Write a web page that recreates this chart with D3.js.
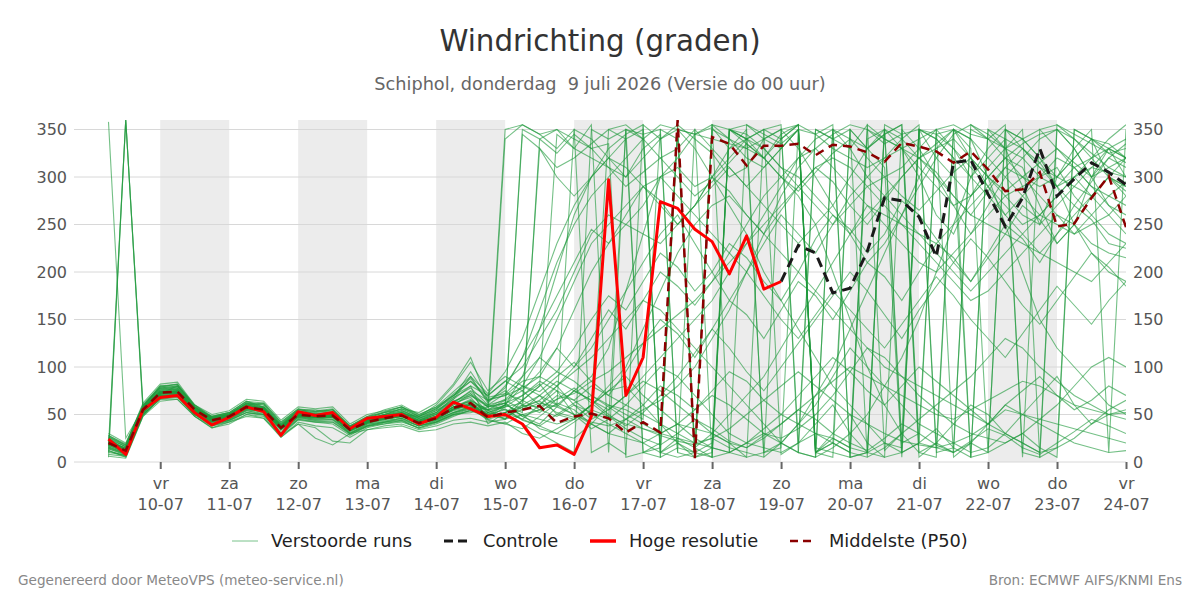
<!DOCTYPE html>
<html>
<head>
<meta charset="utf-8">
<script src="https://cdn.jsdelivr.net/npm/d3@7"></script>
<style>
  body { margin: 0; background: #fff; font-family: "DejaVu Sans", sans-serif; }
</style>
</head>
<body>
<svg id="chart" width="1200" height="600"></svg>
<script>
// --- data (6-hourly, first point 9 juli 06 uur) ---
const startTime = Date.UTC(2026, 6, 9, 6);
const stepHours = 6;

const hogeResolutie = [24,8,55,68,70,52,39,47,58,53,28,53,49,52,35,46,48,50,40,47,63,56,48,50,40,15,18,8,48,297,70,110,274,267,245,232,198,238,182,190];
const controleStart = 39;
const controle = [190,228,220,178,183,222,278,275,258,216,315,318,282,248,278,330,280,298,315,305,292];
const middelste = [20,12,55,73,74,55,44,48,58,55,36,50,48,49,34,42,46,49,41,46,57,62,47,52,55,59,41,48,51,46,31,42,31,360,4,342,335,312,333,333,335,323,334,332,326,316,336,332,327,315,327,308,285,287,305,248,251,278,301,247];

const run01 = [15,8,52,70,72,50,40,45,55,52,30,48,45,47,30,40,44,46,38,44,52,58,55,58,70,82,60,75,90,120,180,240,300,320,345,352,330,340,350,8,20,350,340,330,355,12,30,350,320,300,280,310,330,290,250,300,320,340,300,280];
const run02 = [25,12,58,80,82,58,46,50,62,60,40,54,52,55,36,45,50,52,44,50,62,68,48,60,345,330,310,320,335,350,340,10,15,355,340,325,300,310,340,350,20,40,60,30,10,350,330,300,260,240,280,300,320,310,270,230,250,300,330,320];
const run03 = [8,6,50,66,68,50,38,44,52,50,28,44,42,40,28,38,40,44,35,40,48,55,60,65,55,70,50,45,60,75,80,60,40,30,20,25,15,10,5,20,40,60,90,120,100,80,60,40,30,20,10,15,30,50,70,90,60,40,50,55];
const run04 = [30,20,60,78,76,56,48,52,64,58,38,55,55,52,36,46,52,55,46,52,64,72,52,60,80,110,150,190,230,250,270,290,300,280,260,240,220,250,280,300,320,330,310,290,270,250,230,210,200,220,240,260,280,290,300,310,280,260,240,230];
const run05 = [358,25,56,74,75,54,44,49,57,56,35,50,47,48,33,43,47,50,42,45,55,60,45,40,50,35,30,25,40,60,55,45,350,340,10,5,350,355,340,330,350,15,10,5,340,350,20,30,345,350,330,10,350,340,320,300,330,350,10,350];
const run06 = [22,14,54,72,80,60,46,47,60,62,42,56,50,52,38,48,55,60,50,58,70,85,70,85,100,130,160,200,240,260,250,270,300,310,290,300,320,340,330,310,300,280,260,240,260,280,300,320,330,340,320,300,280,260,250,270,290,310,330,300];
const run07 = [12,5,48,68,70,48,36,42,50,48,26,42,38,36,26,36,40,42,36,42,50,52,58,62,48,55,70,65,80,70,60,50,40,20,10,350,340,330,320,300,280,250,200,150,100,60,30,10,5,350,340,300,250,200,150,120,100,80,60,50];
const run08 = [28,18,62,82,84,60,50,54,66,64,44,58,56,58,40,50,54,58,48,55,70,80,40,52,65,80,345,330,320,310,300,320,340,355,5,10,350,345,330,310,290,270,250,270,290,300,310,330,350,5,20,10,350,330,310,300,290,280,300,320];
const run09 = [18,10,55,75,76,56,45,48,60,56,36,50,49,50,35,43,48,52,44,50,62,75,65,70,85,90,80,95,110,130,150,170,160,140,120,100,80,60,40,20,10,5,15,30,50,80,110,150,200,250,300,330,350,340,320,290,250,220,200,190];
const run10 = [20,15,52,70,70,52,42,46,55,54,34,47,45,45,32,40,42,45,38,42,50,54,50,55,45,60,75,50,35,45,60,80,100,90,70,50,30,20,15,10,20,30,25,15,10,5,10,20,15,10,20,40,60,50,40,30,20,15,10,12];
const run11 = [26,16,57,76,78,57,47,51,61,58,39,53,51,53,37,46,50,54,46,52,66,90,62,80,110,160,210,250,280,300,320,340,355,350,345,340,335,330,340,350,355,345,330,320,310,320,330,340,350,355,345,340,330,320,300,290,310,320,330,340];
const run12 = [10,7,50,68,72,52,40,44,54,50,30,46,44,44,30,38,42,44,38,42,50,56,45,50,40,30,20,10,350,340,350,10,20,350,330,300,270,240,200,170,140,110,80,60,40,20,10,350,340,320,300,280,260,240,220,240,260,280,300,290];
const run13 = [24,14,56,74,74,55,44,48,58,55,36,50,48,49,34,42,46,49,41,46,58,65,55,45,60,70,85,75,65,55,70,90,110,130,150,170,200,230,260,290,320,340,350,5,10,350,340,320,300,280,260,250,240,230,220,210,200,190,210,230];
const run14 = [10,360,58,78,80,58,45,50,62,58,38,52,50,52,36,44,48,52,44,50,60,72,58,350,355,345,350,340,330,335,5,10,5,350,345,355,10,20,30,20,10,350,340,350,5,355,345,350,10,15,5,350,330,340,350,355,345,335,325,330];
const run15 = [16,9,53,71,73,54,43,47,57,54,35,49,47,48,33,41,46,50,48,60,80,105,75,90,80,70,60,50,40,30,25,20,30,40,35,30,50,70,90,120,150,180,210,240,270,260,250,240,230,250,270,290,310,300,280,260,240,260,280,270];
const run16 = [22,12,56,74,75,56,45,49,59,56,37,51,49,50,35,43,47,50,42,47,56,60,48,52,58,65,80,60,45,55,70,85,75,60,45,30,20,15,25,40,55,70,85,100,90,80,70,60,50,45,55,65,75,85,80,70,60,55,50,52];
const run17 = [14,8,52,70,70,50,40,44,52,50,30,45,42,42,30,38,42,46,40,45,52,58,50,60,90,140,200,260,300,330,345,355,5,15,10,355,340,320,310,330,350,10,30,50,20,5,350,330,300,270,240,270,300,320,340,350,330,300,270,250];
const run18 = [27,17,59,79,82,60,48,52,64,62,42,56,54,56,38,48,52,56,48,56,68,78,60,55,50,45,40,45,60,80,100,140,180,220,250,270,280,260,240,220,200,180,160,140,120,100,90,80,70,60,50,40,30,20,10,15,25,40,55,65];
const run19 = [6,4,48,64,66,48,36,40,50,46,26,40,36,22,20,34,38,40,34,38,44,46,42,45,50,55,60,350,340,320,300,330,345,10,350,330,310,290,310,330,350,5,350,330,300,320,340,355,15,350,320,290,260,280,300,320,310,290,270,260];
const run20 = [19,11,55,73,75,55,44,48,58,55,36,50,48,49,34,42,46,49,44,52,68,95,68,72,65,80,95,85,70,60,50,40,30,25,20,15,10,5,10,20,40,70,100,140,180,220,260,300,330,350,340,320,300,280,260,250,240,250,260,280];
const run21 = [23,13,56,73,74,55,45,49,58,55,37,50,48,48,34,42,46,48,41,46,54,58,52,48,55,62,58,50,42,38,45,55,65,80,100,130,160,200,240,280,310,330,345,355,350,340,330,310,290,270,280,300,320,335,345,350,340,325,310,300];
const run22 = [5,360,60,80,78,58,47,50,60,57,38,52,50,50,35,44,48,51,43,48,58,64,46,58,62,330,300,280,300,320,340,350,10,20,5,355,350,340,10,15,350,345,355,5,10,20,15,350,340,320,5,10,20,30,15,5,350,340,330,320];
const run23 = [21,15,55,72,72,54,43,47,58,54,36,49,47,48,34,44,50,56,52,62,82,110,64,75,60,52,66,78,62,48,40,35,30,40,55,70,60,45,30,25,35,50,70,95,120,110,90,70,55,40,30,25,20,30,45,60,80,100,110,100];
const run24 = [17,10,54,72,73,54,43,47,57,54,35,49,47,48,34,42,47,50,43,48,58,64,55,65,75,60,80,100,120,150,180,210,240,260,230,200,170,200,230,260,240,220,250,280,300,280,260,240,220,200,180,200,220,240,260,280,300,280,260,240];
const run25 = [20,12,55,73,74,55,44,48,58,55,36,50,48,49,34,42,46,49,41,46,56,60,50,45,65,55,48,60,52,45,350,345,350,10,5,15,350,340,320,345,355,10,20,350,330,310,5,350,345,330,300,320,340,10,5,350,330,300,310,320];
const run26 = [12,6,50,66,66,48,38,42,48,46,28,40,25,18,30,34,36,38,32,34,40,42,38,42,30,25,35,45,60,75,90,70,55,40,25,15,10,20,35,50,40,30,20,10,5,15,30,45,60,75,90,110,130,120,100,85,70,60,50,45];
const run27 = [26,18,58,78,80,58,47,51,62,60,40,55,53,55,37,46,52,58,50,58,74,90,72,95,130,180,230,270,300,320,310,290,270,250,270,300,330,350,5,350,330,300,270,240,210,230,260,290,320,345,355,340,320,300,290,300,320,340,335,320];
const run28 = [20,10,54,72,74,54,43,47,58,55,36,50,48,50,35,43,48,52,46,54,64,70,58,62,70,85,75,65,50,40,30,20,10,5,10,20,350,340,350,355,10,5,350,340,330,345,355,10,20,40,60,50,30,20,10,355,340,320,300,290];
const run29 = [15,9,52,70,71,52,42,46,56,53,34,48,46,47,33,41,45,48,40,45,55,60,47,52,60,58,66,72,85,95,110,125,140,155,170,190,210,230,250,270,290,310,320,310,290,270,250,230,210,190,170,180,200,220,240,260,250,230,220,215];
const run30 = [24,16,57,76,77,57,46,50,60,57,38,52,50,51,36,44,48,51,43,48,58,62,54,60,52,340,350,330,355,10,350,340,320,330,350,5,10,355,345,335,350,10,20,10,355,340,330,320,335,350,5,350,340,330,310,290,300,320,340,355];
const run31 = [18,10,54,72,73,54,43,47,57,54,35,49,47,48,33,41,45,48,40,44,52,56,49,56,44,38,50,62,70,58,45,35,28,22,18,25,35,50,65,80,95,80,65,50,40,30,22,18,15,20,28,40,55,50,45,40,35,30,25,20];
const run32 = [22,13,56,74,75,56,45,49,59,56,37,51,49,50,35,44,50,56,48,56,72,85,66,70,78,90,120,160,200,230,250,240,230,250,270,290,310,290,270,250,230,250,270,300,330,350,10,20,350,330,310,290,270,250,260,280,300,310,305,300];
const run33 = [19,11,54,72,74,55,44,48,57,55,36,50,48,49,34,42,46,49,42,48,60,70,60,72,90,110,95,120,150,175,160,190,220,205,180,200,230,215,190,170,200,235,260,245,220,240,275,260,235,210,190,215,240,270,255,230,250,280,300,285];
const run34 = [23,14,57,75,77,57,46,50,60,57,38,52,50,51,36,44,49,53,45,51,63,74,58,66,80,74,90,105,85,70,95,125,150,135,110,140,170,155,130,160,190,175,150,180,210,195,170,200,230,215,190,220,250,235,210,240,270,255,230,225];
const run35 = [14,7,51,69,71,51,41,45,54,51,32,47,44,45,31,39,43,46,38,43,51,57,44,40,35,48,62,55,40,30,45,60,80,70,55,75,95,85,65,50,70,90,110,95,75,60,80,100,85,70,55,40,60,75,90,70,55,65,80,70];
const run36 = [21,12,56,74,75,56,45,49,58,55,37,51,49,50,35,43,47,50,43,48,58,66,52,58,350,340,325,345,330,310,290,305,320,300,280,295,315,335,320,300,285,305,325,340,320,300,280,265,285,305,320,300,285,300,315,330,310,290,280,295];
const run37 = [25,16,58,77,79,58,47,51,61,58,39,53,51,52,37,45,50,54,47,54,66,80,70,85,75,95,120,100,130,160,140,170,200,185,165,190,220,200,175,150,130,155,180,160,140,120,145,170,195,175,150,130,110,135,160,185,165,145,170,190];
const run38 = [17,360,54,72,73,54,43,47,56,53,35,49,47,48,33,41,45,48,40,45,55,61,50,46,58,64,52,47,60,350,355,340,10,25,15,5,350,335,320,340,355,10,5,350,330,345,355,20,35,15,350,340,355,5,350,330,315,300,320,335];
const run39 = [11,7,50,67,69,50,39,43,52,49,29,45,43,42,29,37,41,43,36,41,49,54,47,52,45,38,30,42,55,48,35,25,18,30,45,35,22,15,28,40,55,45,30,20,12,25,40,30,18,10,22,35,28,15,8,20,32,45,38,30];
const run40 = [28,19,60,80,81,59,48,52,63,61,41,55,53,55,38,47,53,58,49,57,70,88,64,78,110,140,175,210,245,230,260,290,275,250,270,300,285,260,240,265,290,310,295,270,250,275,300,320,305,280,260,285,310,330,315,290,270,295,320,310];
const run41 = [16,9,53,71,72,53,42,46,56,53,34,48,46,47,33,41,45,48,41,46,56,62,55,62,48,40,58,75,65,50,38,52,70,90,115,140,120,95,75,100,125,150,175,200,180,155,130,160,185,210,235,215,190,165,145,170,195,220,205,185];
const run42 = [20,12,55,73,74,55,44,48,58,55,36,50,48,49,34,42,46,49,41,46,56,61,50,340,355,345,330,350,10,20,8,355,340,350,15,30,20,5,350,340,355,10,25,15,350,335,345,5,20,10,355,345,330,350,5,15,350,340,325,315];

const verstoordeRuns = [run01,run02,run03,run04,run05,run06,run07,run08,run09,run10,run11,run12,run13,run14,
  run15,run16,run17,run18,run19,run20,run21,run22,run23,run24,run25,run26,run27,run28,run29,run30,run31,run32,
  run33,run34,run35,run36,run37,run38,run39,run40,run41,run42];

const tickDays = ["vr","za","zo","ma","di","wo","do","vr","za","zo","ma","di","wo","do","vr"];
const tickDates = ["10-07","11-07","12-07","13-07","14-07","15-07","16-07","17-07","18-07","19-07","20-07","21-07","22-07","23-07","24-07"];
const shadedDays = [10, 12, 14, 16, 18, 20, 22];
const yTicks = [0, 50, 100, 150, 200, 250, 300, 350];

// --- layout ---
const svg = d3.select("#chart");
const plot = { left: 74, right: 1126, top: 120, bottom: 462 };

const x = d3.scaleUtc()
  .domain([Date.UTC(2026, 6, 8, 18), Date.UTC(2026, 6, 24, 0)])
  .range([plot.left, plot.right]);
const y = d3.scaleLinear().domain([0, 360]).range([plot.bottom, plot.top]);

const timeAt = i => new Date(startTime + i * stepHours * 3600 * 1000);

// title
svg.append("text").attr("x", 600).attr("y", 51).attr("text-anchor", "middle")
  .attr("font-size", 29.3).attr("fill", "#333").text("Windrichting (graden)");
svg.append("text").attr("x", 600).attr("y", 90).attr("text-anchor", "middle")
  .attr("font-size", 17.7).attr("fill", "#666").text("Schiphol, donderdag  9 juli 2026 (Versie do 00 uur)")
  .style("white-space", "pre");

// shaded days
svg.append("g").selectAll("rect")
  .data(shadedDays)
  .enter().append("rect")
  .attr("x", d => x(Date.UTC(2026, 6, d)))
  .attr("width", d => x(Date.UTC(2026, 6, d + 1)) - x(Date.UTC(2026, 6, d)))
  .attr("y", plot.top)
  .attr("height", plot.bottom - plot.top)
  .attr("fill", "#ececec");

// grid
svg.append("g").selectAll("line")
  .data(yTicks)
  .enter().append("line")
  .attr("x1", plot.left).attr("x2", plot.right)
  .attr("y1", d => y(d)).attr("y2", d => y(d))
  .attr("stroke", "#d8d8d8").attr("stroke-width", 1);

// y axes
const yLeft = svg.append("g").attr("transform", `translate(${plot.left - 6},0)`)
  .call(d3.axisLeft(y).tickValues(yTicks).tickSize(0).tickPadding(1));
const yRight = svg.append("g").attr("transform", `translate(${plot.right + 6},0)`)
  .call(d3.axisRight(y).tickValues(yTicks).tickSize(0).tickPadding(1));
[yLeft, yRight].forEach(g => {
  g.select(".domain").remove();
  g.selectAll("text").attr("font-size", 16).attr("fill", "#555").attr("font-family", "DejaVu Sans");
});

// x axis
const tickTimes = tickDates.map((d, i) => new Date(Date.UTC(2026, 6, 10 + i)));
const xAxis = svg.append("g").attr("transform", `translate(0,${plot.bottom})`)
  .call(d3.axisBottom(x).tickValues(tickTimes).tickSize(7).tickFormat(""));
xAxis.select(".domain").remove();
xAxis.selectAll(".tick line").attr("stroke", "#666").attr("stroke-width", 2);
xAxis.selectAll(".tick").each(function(d, i) {
  const t = d3.select(this);
  t.append("text").attr("y", 27).attr("fill", "#555").attr("font-size", 16)
    .attr("font-family", "DejaVu Sans").attr("text-anchor", "middle").text(tickDays[i]);
  t.append("text").attr("y", 48).attr("fill", "#555").attr("font-size", 16)
    .attr("font-family", "DejaVu Sans").attr("text-anchor", "middle").text(tickDates[i]);
});

// clip
svg.append("clipPath").attr("id", "clip").append("rect")
  .attr("x", plot.left).attr("y", plot.top - 2)
  .attr("width", plot.right - plot.left).attr("height", plot.bottom - plot.top + 4);

const lines = svg.append("g").attr("clip-path", "url(#clip)");
const lineFrom = offset => d3.line().x((d, i) => x(timeAt(i + offset))).y(d => y(d));

// ensemble
lines.append("g").selectAll("path")
  .data(verstoordeRuns)
  .enter().append("path")
  .attr("d", lineFrom(0))
  .attr("fill", "none")
  .attr("stroke", "#1f9a3c")
  .attr("stroke-opacity", 0.62)
  .attr("stroke-width", 1.1);

lines.append("path").datum(controle)
  .attr("d", lineFrom(controleStart))
  .attr("fill", "none").attr("stroke", "#1a1a1a").attr("stroke-width", 3)
  .attr("stroke-dasharray", "10,6");

lines.append("path").datum(hogeResolutie)
  .attr("d", lineFrom(0))
  .attr("fill", "none").attr("stroke", "#ff0000").attr("stroke-width", 3)
  .attr("stroke-linejoin", "round");

lines.append("path").datum(middelste)
  .attr("d", lineFrom(0))
  .attr("fill", "none").attr("stroke", "#8b0000").attr("stroke-width", 2.5)
  .attr("stroke-dasharray", "9,6");

// legend
const legendItems = [
  { label: "Verstoorde runs", x: 232, color: "#1f9a3c", width: 1, dash: null, opacity: 0.6 },
  { label: "Controle", x: 444, color: "#1a1a1a", width: 3, dash: "9,5", opacity: 1 },
  { label: "Hoge resolutie", x: 590, color: "#ff0000", width: 3.5, dash: null, opacity: 1 },
  { label: "Middelste (P50)", x: 790, color: "#8b0000", width: 2.5, dash: "8,5", opacity: 1 }
];
const legend = svg.append("g");
legendItems.forEach(it => {
  legend.append("line")
    .attr("x1", it.x).attr("x2", it.x + 26).attr("y1", 541).attr("y2", 541)
    .attr("stroke", it.color).attr("stroke-width", it.width)
    .attr("stroke-opacity", it.opacity)
    .attr("stroke-dasharray", it.dash);
  legend.append("text").attr("x", it.x + 39).attr("y", 547)
    .attr("font-size", 17.8).attr("fill", "#222").text(it.label);
});

// footer
svg.append("text").attr("x", 18).attr("y", 585).attr("font-size", 13.6).attr("fill", "#888")
  .text("Gegenereerd door MeteoVPS (meteo-service.nl)");
svg.append("text").attr("x", 1182).attr("y", 585).attr("text-anchor", "end")
  .attr("font-size", 13.6).attr("fill", "#888").text("Bron: ECMWF AIFS/KNMI Ens");
</script>
</body>
</html>
